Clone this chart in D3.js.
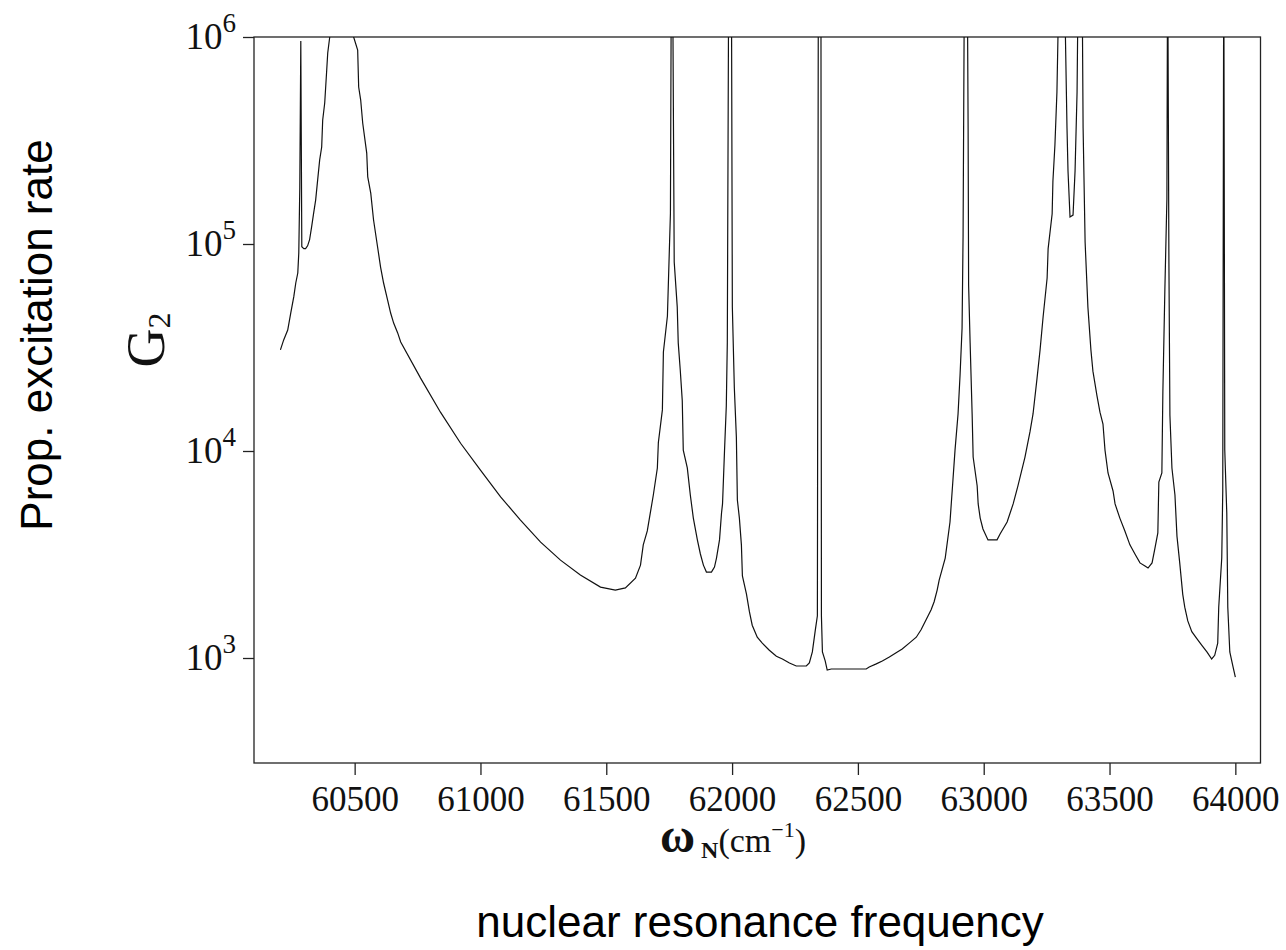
<!DOCTYPE html>

<head>
  <meta charset="utf-8">
  <title>G2 vs nuclear resonance frequency</title>
  <style>
    body {
      margin: 0;
      background: #fff;
    }

    .serif {
      font-family: "Liberation Serif", "DejaVu Serif", serif;
      fill: #111;
    }

    .sans {
      font-family: "Liberation Sans", Arial, sans-serif;
      fill: #000;
    }

    .line {
      fill: none;
      stroke: #111;
      stroke-width: 1.2;
    }

    .frame {
      fill: none;
      stroke: #222;
      stroke-width: 1.3;
    }
  </style>
</head>

<body>
  <div id="chart"></div>

  <script src="https://cdnjs.cloudflare.com/ajax/libs/d3/7.8.5/d3.min.js"></script>

  <script>
    // frequency (cm^-1)
    const freq = [
      60205, 60218, 60234, 60246, 60258, 60266, 60274, 60278, 60282, 60286,
      60290, 60298, 60305, 60313, 60321, 60329, 60337, 60345, 60353, 60361,
      60369, 60373, 60381, 60389, 60393, 60401, 60448, 60496, 60512, 60516,
      60524, 60532, 60548, 60552, 60564, 60575, 60591, 60603, 60615, 60631,
      60643, 60655, 60671, 60683, 60762, 60841, 60921, 61000, 61080, 61159,
      61239, 61318, 61397, 61477, 61536, 61576, 61616, 61636, 61647, 61663,
      61675, 61687, 61703, 61707, 61723, 61727, 61743, 61755, 61759, 61763,
      61770, 61782, 61786, 61794, 61802, 61806, 61822, 61834, 61846, 61862,
      61874, 61886, 61898, 61918, 61930, 61938, 61950, 61958, 61962, 61970,
      61977, 61981, 61987, 61997, 62001, 62009, 62017, 62021, 62029, 62037,
      62041, 62057, 62069, 62080, 62100, 62120, 62148, 62176, 62200, 62228,
      62255, 62295, 62307, 62319, 62331, 62339, 62343, 62353, 62355, 62359,
      62370, 62378, 62394, 62533, 62545, 62573, 62597, 62625, 62652, 62676,
      62704, 62732, 62751, 62771, 62791, 62803, 62815, 62823, 62847, 62866,
      62878, 62886, 62898, 62906, 62914, 62918, 62924, 62934, 62938, 62940,
      62946, 62954, 62958, 62974, 62978, 62986, 62997, 63017, 63053, 63065,
      63093, 63117, 63136, 63164, 63184, 63196, 63212, 63224, 63236, 63252,
      63256, 63272, 63275, 63283, 63291, 63295, 63300, 63318, 63331, 63335,
      63343, 63355, 63363, 63371, 63377, 63390, 63395, 63403, 63414, 63426,
      63434, 63450, 63462, 63474, 63482, 63494, 63514, 63522, 63541, 63561,
      63581, 63601, 63621, 63641, 63653, 63669, 63680, 63692, 63696, 63708,
      63712, 63720, 63728, 63731, 63736, 63740, 63748, 63760, 63768, 63779,
      63791, 63799, 63811, 63827, 63847, 63867, 63887, 63906, 63918, 63930,
      63934, 63946, 63950, 63954, 63958, 63966, 63970, 63978, 63990, 64000
    ];

    // G2 at each frequency (values above 1e6 run off the top of the plot)
    const g2 = [
      3.08e4, 3.44e4, 3.84e4, 4.64e4, 5.55e4, 6.48e4, 7.24e4, 9.06e4, 1.88e5, 9.56e5,
      9.7e4, 9.5e4, 9.5e4, 9.8e4, 1.05e5, 1.21e5, 1.41e5, 1.63e5, 2.04e5, 2.55e5,
      2.94e5, 3.97e5, 4.80e5, 6.93e5, 8.37e5, 1e6, 3e6, 1e6, 8.65e5, 5.73e5,
      4.96e5, 3.84e5, 2.75e5, 2.11e5, 1.76e5, 1.31e5, 9.7e4, 7.74e4, 6.48e4, 5.36e4,
      4.64e4, 4.15e4, 3.72e4, 3.36e4, 2.25e4, 1.54e4, 1.09e4, 8.09e3, 6.00e3, 4.64e3,
      3.63e3, 2.97e3, 2.52e3, 2.20e3, 2.13e3, 2.18e3, 2.43e3, 2.81e3, 3.52e3, 4.11e3,
      5.02e3, 6.13e3, 8.28e3, 1.10e4, 1.58e4, 3.01e4, 4.49e4, 1.41e5, 3e6, 3e6,
      8.18e4, 4.97e4, 3.33e4, 2.46e4, 1.75e4, 1.01e4, 8.28e3, 6.13e3, 4.74e3, 3.72e3,
      3.18e3, 2.81e3, 2.60e3, 2.60e3, 2.75e3, 3.04e3, 3.72e3, 5.02e3, 5.55e3, 1.01e4,
      1.65e4, 3.33e4, 3e6, 3e6, 4.97e4, 2.01e4, 1.17e4, 5.80e3, 4.74e3, 3.52e3,
      2.49e3, 2.04e3, 1.67e3, 1.44e3, 1.26e3, 1.18e3, 1.09e3, 1.02e3, 989, 946,
      915, 915, 946, 1.07e3, 1.37e3, 1.60e3, 3e6, 3e6, 1.60e3, 1.07e3,
      968, 875, 885, 885, 905, 937, 968, 1.01e3, 1.06e3, 1.105e3,
      1.18e3, 1.26e3, 1.37e3, 1.53e3, 1.71e3, 1.87e3, 2.13e3, 2.38e3, 3.04e3, 4.54e3,
      7.33e3, 1.01e4, 1.51e4, 2.33e4, 3.93e4, 1.10e5, 3e6, 3e6, 3.63e5, 6.34e4,
      3.33e4, 1.51e4, 9.35e3, 6.78e3, 5.55e3, 4.74e3, 4.20e3, 3.72e3, 3.72e3, 3.97e3,
      4.54e3, 5.55e3, 6.78e3, 9.35e3, 1.24e4, 1.51e4, 2.25e4, 3.08e4, 4.44e4, 6.85e4,
      9.5e4, 1.40e5, 2.01e5, 3.01e5, 5.42e5, 9.9e5, 3e6, 3e6, 3.63e5, 2.25e5,
      1.35e5, 1.38e5, 2.25e5, 5.42e5, 3e6, 3e6, 3.63e5, 1.02e5, 4.97e4, 3.08e4,
      2.43e4, 1.85e4, 1.54e4, 1.35e4, 1.01e4, 7.83e3, 6.41e3, 5.55e3, 4.74e3, 4.11e3,
      3.52e3, 3.18e3, 2.88e3, 2.78e3, 2.72e3, 2.88e3, 3.37e3, 4.02e3, 7.08e3, 7.83e3,
      1.93e4, 6.07e4, 1.65e5, 3e6, 8.18e4, 1.49e4, 8.28e3, 6.13e3, 3.88e3, 2.88e3,
      2.03e3, 1.76e3, 1.51e3, 1.34e3, 1.24e3, 1.15e3, 1.07e3, 989, 1.03e3, 1.18e3,
      1.76e3, 3.04e3, 6.41e3, 3e6, 1.01e4, 5.02e3, 1.76e3, 1.07e3, 915, 809
    ];

    const xTicks = [60500, 61000, 61500, 62000, 62500, 63000, 63500, 64000];
    const yTicks = [1e3, 1e4, 1e5, 1e6];
    const xDomain = [60100, 64100];
    const yDomain = [311, 1e6];

    let margin = { top: 37, right: 25.5, bottom: 187, left: 254 },
      width = 1286 - margin.left - margin.right,
      height = 950 - margin.top - margin.bottom;

    let root = d3.select('#chart')
      .append('svg')
      .attr('width', 1286)
      .attr('height', 950);

    let svg = root.append('g')
      .attr('transform', `translate(${margin.left}, ${margin.top})`);

    let x = d3.scaleLinear()
      .domain(xDomain)
      .range([0, width]);

    let y = d3.scaleLog()
      .domain(yDomain)
      .range([height, 0]);

    svg.append('clipPath')
      .attr('id', 'plot-clip')
      .append('rect')
      .attr('width', width)
      .attr('height', height);

    // x axis
    let xAxis = svg.append('g')
      .attr('transform', `translate(0, ${height})`)
      .call(d3.axisBottom(x)
        .tickValues(xTicks)
        .tickSize(12)
        .tickPadding(11)
        .tickFormat(d3.format('d')));

    xAxis.select('.domain').remove();
    xAxis.selectAll('line').attr('stroke', '#222').attr('stroke-width', 1.3);
    xAxis.selectAll('text')
      .attr('class', 'serif')
      .attr('font-size', 35)
      .attr('fill', '#111');

    // y axis, labels as powers of ten
    let yAxis = svg.append('g')
      .call(d3.axisLeft(y)
        .tickValues(yTicks)
        .tickSize(11)
        .tickPadding(7)
        .tickFormat(() => ''));

    yAxis.select('.domain').remove();
    yAxis.selectAll('line').attr('stroke', '#222').attr('stroke-width', 1.3);
    yAxis.selectAll('text')
      .attr('class', 'serif')
      .attr('font-size', 37)
      .attr('fill', '#111')
      .each(function (d) {
        let t = d3.select(this);
        t.append('tspan').text('10');
        t.append('tspan')
          .attr('font-size', 27)
          .attr('dy', -17)
          .text(Math.round(Math.log10(d)));
      });

    svg.append('rect')
      .attr('class', 'frame')
      .attr('width', width)
      .attr('height', height);

    let line = d3.line()
      .x(d => x(d[0]))
      .y(d => y(d[1]));

    svg.append('path')
      .datum(d3.zip(freq, g2))
      .attr('class', 'line')
      .attr('clip-path', 'url(#plot-clip)')
      .attr('d', line);

    // axis titles
    let wLabel = root.append('text')
      .attr('class', 'serif')
      .attr('x', 733)
      .attr('y', 852)
      .attr('text-anchor', 'middle');
    wLabel.append('tspan').attr('font-size', 48).attr('font-weight', 'bold').text('ω');
    wLabel.append('tspan').attr('font-size', 24).attr('font-weight', 'bold').attr('dy', 6).text(' N');
    wLabel.append('tspan').attr('font-size', 34).attr('dy', -6).text('(cm');
    wLabel.append('tspan').attr('font-size', 22).attr('dy', -15).text('−1');
    wLabel.append('tspan').attr('font-size', 34).attr('dy', 15).text(')');

    root.append('text')
      .attr('class', 'sans')
      .attr('x', 760)
      .attr('y', 937)
      .attr('text-anchor', 'middle')
      .attr('font-size', 44)
      .text('nuclear resonance frequency');

    root.append('text')
      .attr('class', 'sans')
      .attr('transform', 'translate(52, 335) rotate(-90)')
      .attr('text-anchor', 'middle')
      .attr('font-size', 44)
      .text('Prop. excitation rate');

    let gLabel = root.append('text')
      .attr('class', 'serif')
      .attr('transform', 'translate(164, 340) rotate(-90)')
      .attr('text-anchor', 'middle');
    gLabel.append('tspan').attr('font-size', 54).text('G');
    gLabel.append('tspan').attr('font-size', 32).attr('dy', 6).text('2');
  </script>
</body>

</html>
